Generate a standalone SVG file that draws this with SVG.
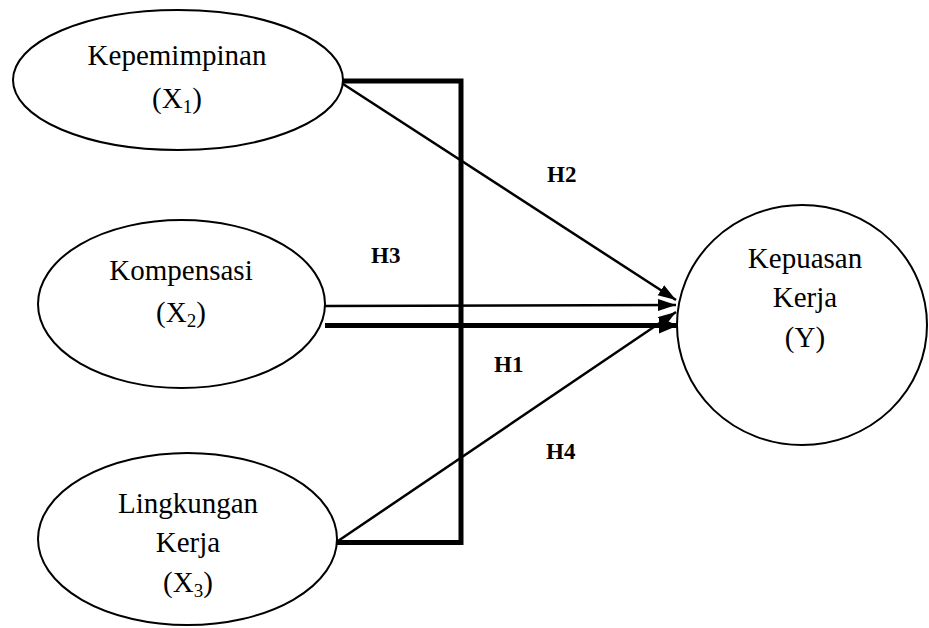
<svg xmlns="http://www.w3.org/2000/svg" width="929" height="628" viewBox="0 0 929 628">
<style>
.node ellipse{fill:#fff;stroke:#000;stroke-width:2}
.lbl{font-family:"Liberation Serif","Times New Roman",serif;font-size:29px;fill:#000;text-anchor:middle}
.sub{font-size:19px}
.h{font-family:"Liberation Serif","Times New Roman",serif;font-size:23px;font-weight:bold;fill:#000}
.thin{stroke:#000;stroke-width:2.5;fill:none}
.thick{stroke:#000;stroke-width:5;fill:none}
</style>
<defs>
<marker id="ah" markerUnits="userSpaceOnUse" markerWidth="20" markerHeight="14" refX="18" refY="6" orient="auto">
<path d="M0,0 L18,6 L0,12 z" fill="#000"/>
</marker>
<marker id="ahT" markerUnits="userSpaceOnUse" markerWidth="22" markerHeight="18" refX="19" refY="8" orient="auto">
<path d="M0,0 L19,8 L0,16 z" fill="#000"/>
</marker>
</defs>
<rect width="929" height="628" fill="#fff"/>
<g id="connectors">
<polyline class="thick" points="343,81 461,81 461,542.5 337,542.5"/>
<line class="thin" x1="340" y1="82" x2="676" y2="300" marker-end="url(#ah)"/>
<line class="thin" x1="325" y1="306" x2="676" y2="305" marker-end="url(#ah)"/>
<line class="thick" x1="325" y1="325.5" x2="678" y2="325.5" marker-end="url(#ahT)"/>
<line class="thin" x1="338" y1="541" x2="676" y2="312" marker-end="url(#ah)"/>
<text class="h" x="547" y="182">H2</text>
<text class="h" x="371" y="263">H3</text>
<text class="h" x="494" y="372">H1</text>
<text class="h" x="546" y="459">H4</text>
</g>
<g id="x1" class="node">
<ellipse cx="178" cy="80" rx="165" ry="70"/>
<text class="lbl" x="177" y="65">Kepemimpinan</text>
<text class="lbl" x="177" y="108">(X<tspan class="sub" dy="5">1</tspan><tspan dy="-5">)</tspan></text>
</g>
<g id="x2" class="node">
<ellipse cx="181.5" cy="304" rx="143.5" ry="84"/>
<text class="lbl" x="181" y="280">Kompensasi</text>
<text class="lbl" x="181" y="322">(X<tspan class="sub" dy="5">2</tspan><tspan dy="-5">)</tspan></text>
</g>
<g id="x3" class="node">
<ellipse cx="187.5" cy="539" rx="149.5" ry="86"/>
<text class="lbl" x="188" y="513">Lingkungan</text>
<text class="lbl" x="188" y="552">Kerja</text>
<text class="lbl" x="188" y="592">(X<tspan class="sub" dy="5">3</tspan><tspan dy="-5">)</tspan></text>
</g>
<g id="y" class="node">
<ellipse cx="802" cy="325" rx="125" ry="120"/>
<text class="lbl" x="805" y="268">Kepuasan</text>
<text class="lbl" x="805" y="307">Kerja</text>
<text class="lbl" x="805" y="347">(Y)</text>
</g>
</svg>
